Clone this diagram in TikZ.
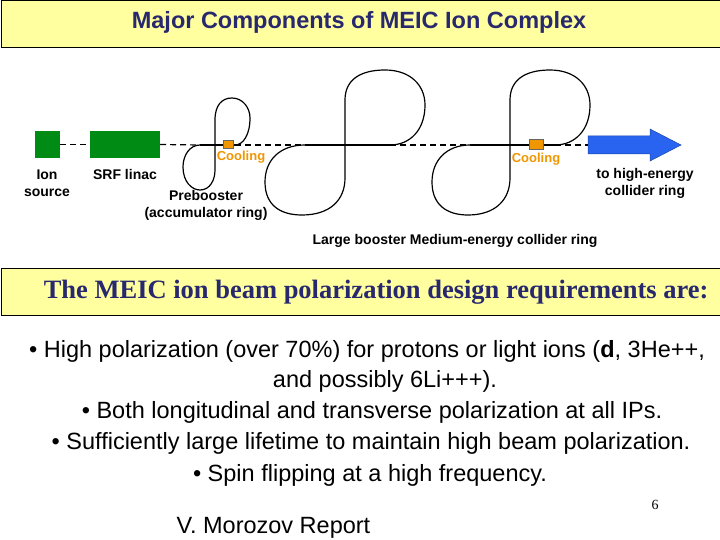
\documentclass[tikz,border=0pt]{standalone}
\usepackage{fontspec}
\setmainfont{Liberation Sans}
\newfontfamily\serifb{Liberation Serif}
\begin{document}
\begin{tikzpicture}[x=1pt,y=-1pt,
  banner/.style={draw=black,line width=0.8pt,fill=bannerfill},
  ring/.style={line width=1.2pt},
  beamdash/.style={line width=1.2pt,dashed,dash pattern=on 6pt off 4pt},
  green box/.style={fill=linacgreen,draw=none},
  cool/.style={fill=coolorange,draw=black!60,line width=0.4pt},
  lab/.style={font=\fontsize{14}{17}\selectfont\bfseries,align=center,inner sep=0pt},
  coollab/.style={font=\fontsize{13}{16}\selectfont\bfseries,text=coolorange,inner sep=0pt},
  bul/.style={font=\fontsize{23.5}{26}\selectfont,inner sep=0pt,anchor=center}]
\definecolor{bannerfill}{RGB}{255,255,160}
\definecolor{titleblue}{RGB}{40,40,110}
\definecolor{linacgreen}{RGB}{0,140,20}
\definecolor{coolorange}{RGB}{240,150,0}
\definecolor{arrowblue}{RGB}{40,100,240}
\useasboundingbox (0,0) rectangle (720,540);
\fill[white] (0,0) rectangle (720,540);
\node[banner,minimum width=719pt,minimum height=47pt,anchor=north west] (title) at (0.5,0.5) {};
\node[font=\fontsize{23.5}{26}\selectfont\bfseries,text=titleblue] (ttext) at (359,22) {Major Components of MEIC Ion Complex};
% boxes
\node[green box,minimum width=25pt,minimum height=27pt] (src) at (47.5,144.5) {};
\node[green box,minimum width=70pt,minimum height=27pt] (linac) at (125,144.5) {};
\coordinate (b0) at (200,145);
\coordinate (b1) at (235,145);
\coordinate (b2) at (305,145);
\coordinate (b3) at (390,145);
\coordinate (b4) at (470,145);
\coordinate (b5) at (555,145);
\coordinate (arr) at (588,145);
\fill[arrowblue,draw=arrowblue!70!black,line width=0.5pt] (588,136) -- (650,136) -- (650,129) -- (681,145) -- (650,161) -- (650,154) -- (588,154) -- cycle;
\draw[beamdash] (src.east) -- (linac.west);
\draw[beamdash] (linac.east) -- (b0);
\draw[beamdash] (b1) -- (b2);
\draw[beamdash] (b3) -- (b4);
\draw[beamdash] (b5) -- (arr);
\draw[ring] (b0) -- (b1);
\draw[ring] (b2) -- (b3);
\draw[ring] (b4) -- (b5);
% prebooster
\draw[ring] (b0) .. controls (190,145) and (183,155) .. (183,167) .. controls (183,182) and (192,190) .. (200,190) .. controls (210,190) and (215,180) .. (215,170) -- (215,120) .. controls (215,105) and (222,98) .. (232,98) .. controls (243,98) and (250,108) .. (250,118) .. controls (250,135) and (243,145) .. (b1);
% large booster
\draw[ring] (b2) .. controls (280,145) and (265,160) .. (265,182) .. controls (265,205) and (280,215) .. (302,215) .. controls (330,215) and (345,200) .. (345,178) -- (345,100) .. controls (345,80) and (360,70) .. (385,70) .. controls (410,70) and (425,85) .. (425,105) .. controls (425,130) and (410,145) .. (b3);
% collider
\draw[ring] (b4) .. controls (447,145) and (432,160) .. (432,182) .. controls (432,205) and (447,215) .. (468,215) .. controls (495,215) and (510,200) .. (510,178) -- (510,100) .. controls (510,80) and (525,70) .. (550,70) .. controls (575,70) and (590,85) .. (590,105) .. controls (590,130) and (575,145) .. (b5);
\node[cool,minimum width=10pt,minimum height=8pt,inner sep=0pt] (c1) at (228,144) {};
\node[cool,minimum width=14pt,minimum height=10pt,inner sep=0pt] (c2) at (536,144) {};
\node[coollab] (c1l) at (241,157) {Cooling};
\node[coollab] (c2l) at (536,159) {Cooling};
\node[lab] (srcl) at (47,183) {Ion\\source};
\node[lab] (linacl) at (125,174) {SRF linac};
\node[lab] (prel) at (206,205) {Prebooster\\(accumulator ring)};
\node[lab] (ringl) at (455,241) {Large booster Medium-energy collider ring};
\node[lab] (arrl) at (645,183) {to high-energy\\collider ring};
% second banner
\node[banner,minimum width=719pt,minimum height=47pt,anchor=north west] (req) at (0.5,268) {};
\node[font=\serifb\fontsize{26.5}{28}\selectfont\bfseries,text=titleblue,anchor=east] (reqt) at (712,292) {The MEIC ion beam polarization design requirements are:};
\node[bul] (l1) at (367,351) {\textbullet\ High polarization (over 70\%) for protons or light ions (\textbf{d}, 3He++,};
\node[bul] (l2) at (385,381) {and possibly 6Li+++).};
\node[bul] (l3) at (372,412) {\textbullet\ Both longitudinal and transverse polarization at all IPs.};
\node[bul] (l4) at (371,443) {\textbullet\ Sufficiently large lifetime to maintain high beam polarization.};
\node[bul] (l5) at (370,475) {\textbullet\ Spin flipping at a high frequency.};
\node[font=\serifb\fontsize{14}{16}\selectfont] (pg) at (655,505) {6};
\node[font=\fontsize{23.5}{26}\selectfont,anchor=west] (auth) at (173,528) {V. Morozov Report};
\end{tikzpicture}
\end{document}
